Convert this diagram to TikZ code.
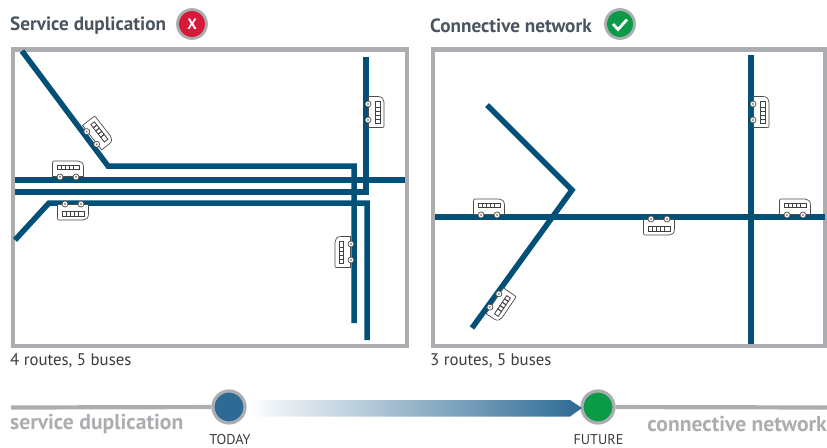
\documentclass[tikz,border=0pt]{standalone}
\usepackage{fontspec}
\setmainfont{PT Sans}
\definecolor{route}{HTML}{005078}
\definecolor{framegray}{HTML}{ABADB0}
\definecolor{titlegray}{HTML}{4A5560}
\definecolor{textgray}{HTML}{3C3C3C}
\definecolor{today}{HTML}{2D6A94}
\definecolor{future}{HTML}{0A9A48}
\definecolor{nope}{HTML}{D7193A}
\tikzset{
  x=1pt,y=-1pt,
  frame/.style={draw=framegray,line width=4.2pt},
  rte/.style={draw=route,line width=5.5pt,line join=miter},
  badge/.style={circle,draw=framegray,line width=2.8pt,minimum size=29pt,inner sep=0pt},
  stop/.style={circle,draw=framegray,line width=3.2pt,minimum size=32pt,inner sep=0pt},
  title/.style={font=\fontsize{19.2}{21}\selectfont\bfseries,text=titlegray,anchor=west,inner sep=0pt},
  note/.style={font=\fontsize{16.8}{19}\selectfont,text=textgray,anchor=west,inner sep=0pt},
  scale label/.style={font=\fontsize{21.6}{24}\selectfont\bfseries,text=framegray,inner sep=0pt},
  when/.style={font=\fontsize{14.2}{16}\selectfont,text=textgray,inner sep=0pt},
  buspart/.style={draw=black!70,line width=.7pt,fill=white},
  bus/.pic={
    \path[buspart] (-15.5,7.5) -- (-15.5,-6) .. controls (-15.5,-7.5) and (-15,-8) .. (-14,-8)
      -- (10,-8) .. controls (13,-8) and (15.5,-6) .. (15.5,-2) -- (15.5,7.5) -- cycle;
    \foreach \wx in {-11,-7,-3,1}
      \draw[draw=black!75,line width=.8pt] (\wx,-4) rectangle ++(4,4.5);
    \draw[draw=black!75,line width=.8pt] (5,-4) rectangle (11,.5);
    \path[buspart] (-8,8) circle (3);
    \path[buspart] (8,8) circle (3);
    \fill[black!70] (-8,8) circle (.9);
    \fill[black!70] (8,8) circle (.9);
  }
}
\begin{document}
\begin{tikzpicture}
\useasboundingbox (0,0) rectangle (827,447);

% left panel
\draw[frame] (13,49.5) rectangle (407,346);
\clip (0,0) rectangle (827,447);
\draw[rte] (22,51) -- (108,166) -- (354,166) -- (354,323);
\draw[rte] (15,180) -- (405,180);
\draw[rte] (15,192) -- (366,192) -- (366,57);
\draw[rte] (15,240) -- (49,203) -- (367,203) -- (367,340);
\pic at (68,169) {bus};
\pic[yscale=-1] at (73,212) {bus};
\pic[rotate=-52] at (98,133) {bus};
\pic[rotate=90,yscale=-1] at (376,112) {bus};
\pic[rotate=90] at (343,252) {bus};

% right panel
\draw[frame] (433,49.5) rectangle (825,346);
\draw[rte] (751,55) -- (751,344);
\draw[rte] (435,217) -- (825,217);
\draw[rte] (487,105) -- (572,190) -- (472,328);
\pic at (489,207) {bus};
\pic[yscale=-1] at (659,227) {bus};
\pic at (795,207) {bus};
\pic[rotate=90,yscale=-1] at (761,112) {bus};
\pic[rotate=-124] at (501,305) {bus};

% titles
\node[title] (t1) at (10,25.5) {Service duplication};
\node[title] (t2) at (430,25.5) {Connective network};
\node[badge,fill=nope,text=white,font=\fontsize{15}{15}\selectfont\bfseries] (b1) at (192,24) {X};
\node[badge,fill=future] (b2) at (620,24) {};
\draw[white,line width=2.8pt] (613,24) -- (618,29.5) -- (627,19.5);

% captions
\node[note] (n1) at (10,360.5) {4 routes, 5 buses};
\node[note] (n2) at (430,360.5) {3 routes, 5 buses};

% timeline
\node[stop,fill=today] (now) at (229,407) {};
\node[stop,fill=future] (later) at (598,407) {};
\coordinate (lineL) at (11,407.5);
\coordinate (lineR) at (827,407.5);
\draw[framegray,line width=4.2pt] (lineL) -- (now);
\draw[framegray,line width=4.2pt] (later) -- (lineR);
\shade[left color=white,right color=today] (247,400) -- (570,400) -- (582,408) -- (570,416.5) -- (247,416.5) -- cycle;
\node[scale label,anchor=west] (s1) at (10,424) {service duplication};
\node[scale label,anchor=east] (s2) at (827,424) {connective network};
\node[when] (w1) at (230,439.5) {TODAY};
\node[when] (w2) at (598.5,439.5) {FUTURE};
\end{tikzpicture}
\end{document}
